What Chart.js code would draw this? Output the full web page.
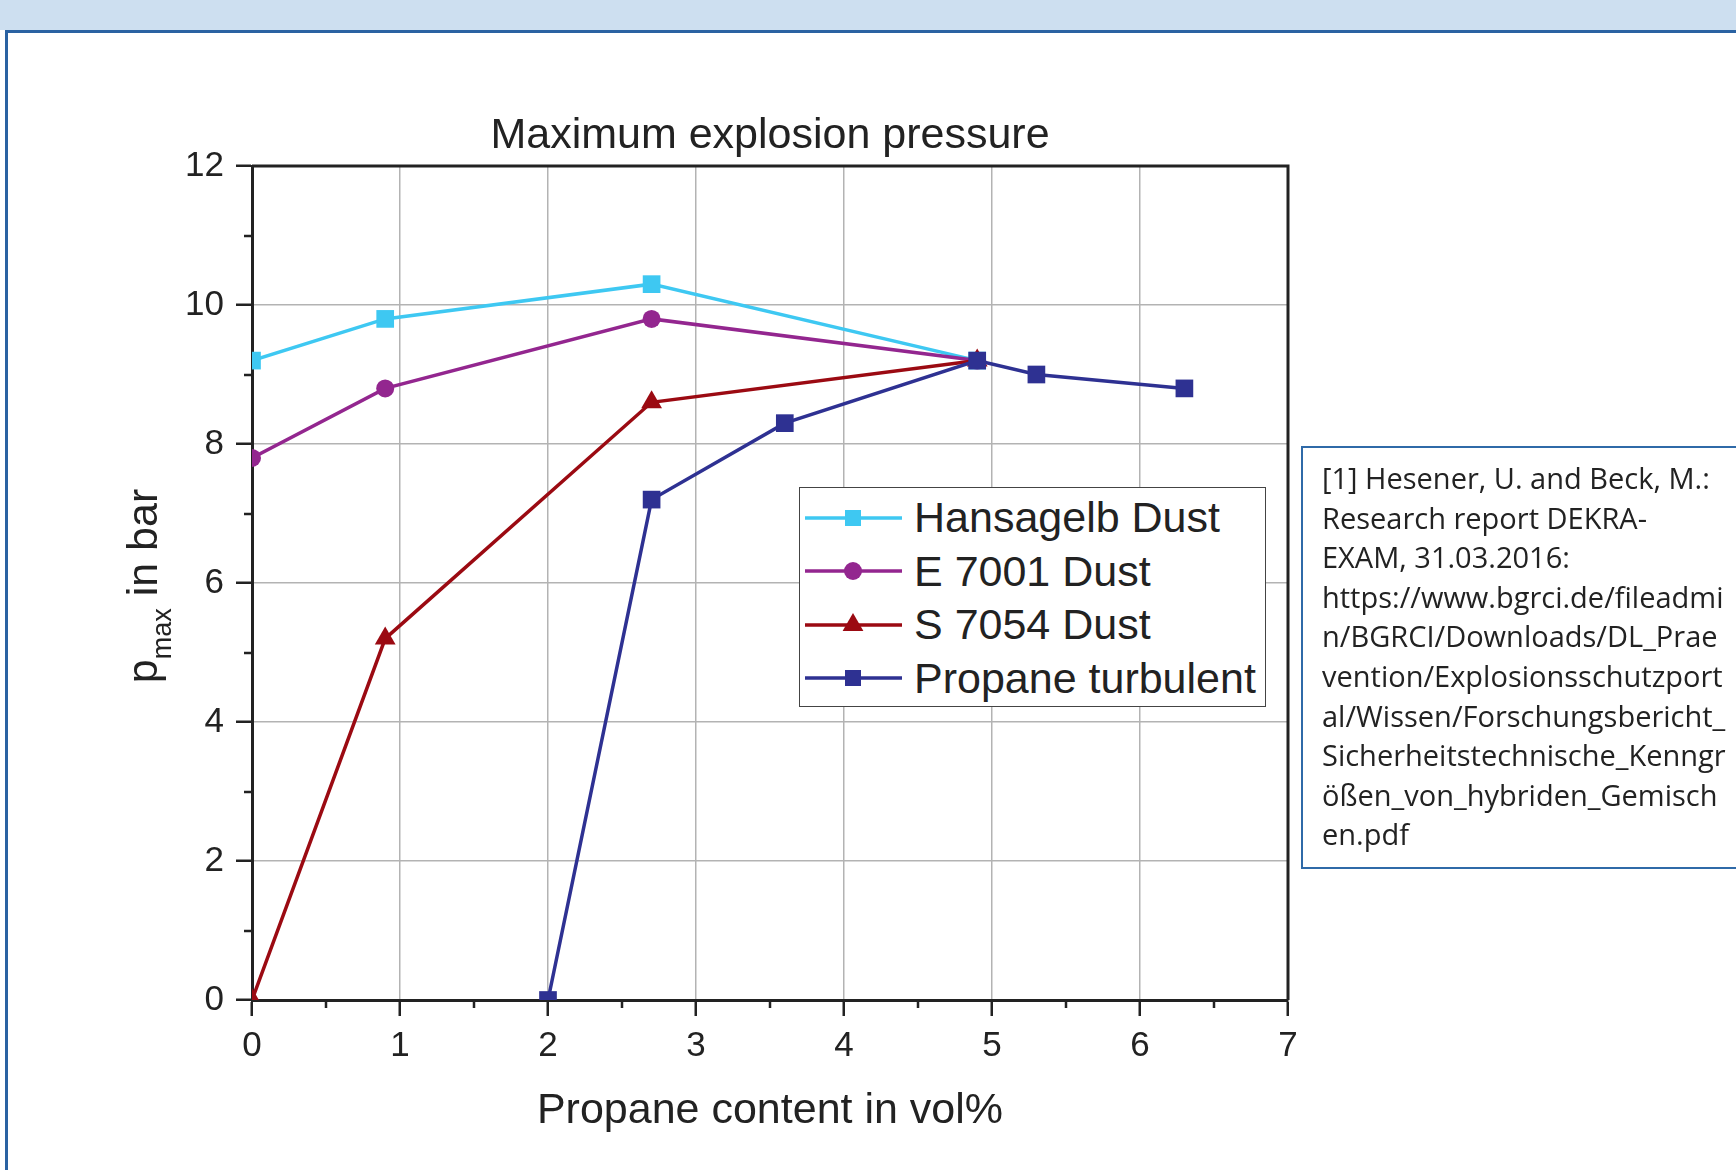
<!DOCTYPE html>
<html>
<head>
<meta charset="utf-8">
<script src="https://cdn.jsdelivr.net/npm/chart.js@4.4.1/dist/chart.umd.min.js"></script>
<style>
  html, body { margin: 0; padding: 0; background: #fff; }
  body { width: 1736px; height: 1170px; position: relative; overflow: hidden; }
  #band { position: absolute; left: 0; top: 0; width: 1736px; height: 30px; background: #cddff0; }
  #frame { position: absolute; left: 5px; top: 30px; width: 1800px; height: 1200px;
           border-top: 3px solid #2a62a2; border-left: 3px solid #2a62a2; }
  #chart { position: absolute; left: 0; top: 0; }
  #legend { position: absolute; left: 799px; top: 487px; width: 467px; height: 220px;
            border: 1.5px solid #444; background: #fff; box-sizing: border-box;
            padding-top: 3px; font-family: 'Liberation Sans', Arial, sans-serif; font-size: 43px; color: #222; }
  #legend .row { height: 53.5px; display: flex; align-items: center; }
  #legend svg { margin-left: 5px; margin-right: 12px; flex: none; }
  #ref { position: absolute; left: 1301px; top: 446px; width: 520px; height: 423px; box-sizing: border-box;
         border: 2px solid #2f6aa8; padding: 10px 0 0 19px; font-family: 'Open Sans', sans-serif;
         font-size: 29px; line-height: 39.6px; color: #222; white-space: nowrap; }
</style>
</head>
<body>
<div id="band"></div>
<div id="frame"></div>
<canvas id="chart" width="1736" height="1170"></canvas>
<div id="legend"></div>
<div id="ref">[1] Hesener, U. and Beck, M.:<br>Research report DEKRA-<br>EXAM, 31.03.2016:<br>https://www.bgrci.de/fileadmi<br>n/BGRCI/Downloads/DL_Prae<br>vention/Explosionsschutzport<br>al/Wissen/Forschungsbericht_<br>Sicherheitstechnische_Kenngr<br>ößen_von_hybriden_Gemisch<br>en.pdf</div>
<script>
// data (propane content in vol%, pmax in bar)
const seriesNames = ['Hansagelb Dust', 'E 7001 Dust', 'S 7054 Dust', 'Propane turbulent'];
const dustContent = [0, 0.9, 2.7, 4.9];
const hansagelbP = [9.2, 9.8, 10.3, 9.2];
const e7001P = [7.8, 8.8, 9.8, 9.2];
const s7054P = [0, 5.2, 8.6, 9.2];
const propaneContent = [2, 2.7, 3.6, 4.9, 5.3, 6.3];
const propaneP = [0, 7.2, 8.3, 9.2, 9.0, 8.8];

const colors = ['#3ec8f2', '#93268f', '#9b0a12', '#2e3192'];
const markers = ['rect', 'circle', 'triangle', 'rect'];
const radii = [12.5, 9, 12, 12.5];

const FONT = "'Liberation Sans', Arial, sans-serif";
const INK = '#222';
const TITLE = 'Maximum explosion pressure';

function pairs(xs, ys) {
    return xs.map((x, i) => ({ x: x, y: ys[i] }));
}

const seriesData = [
    pairs(dustContent, hansagelbP),
    pairs(dustContent, e7001P),
    pairs(dustContent, s7054P),
    pairs(propaneContent, propaneP)
];

const datasets = seriesData.map((data, i) => ({
    label: seriesNames[i],
    data: data,
    borderColor: colors[i],
    backgroundColor: colors[i],
    borderWidth: 3.5,
    pointStyle: markers[i],
    pointRadius: radii[i],
    pointBorderWidth: 0,
    order: seriesNames.length - i   // propane on top
}));

// title centred over the plot, short minor ticks, top/right frame, y title with subscript
const extras = {
    id: 'extras',
    afterDraw(chart) {
        const { ctx, chartArea: a, scales } = chart;
        ctx.save();

        ctx.fillStyle = INK;
        ctx.font = '43px ' + FONT;
        ctx.textAlign = 'center';
        ctx.textBaseline = 'middle';
        ctx.fillText(TITLE, (a.left + a.right) / 2, a.top - 30);

        ctx.strokeStyle = INK;
        ctx.lineWidth = 2.5;
        ctx.beginPath();
        for (let v = 0.5; v < 7; v += 1) {
            const px = Math.round(scales.x.getPixelForValue(v));
            ctx.moveTo(px, a.bottom);
            ctx.lineTo(px, a.bottom + 8);
        }
        for (let v = 1; v < 12; v += 2) {
            const py = Math.round(scales.y.getPixelForValue(v));
            ctx.moveTo(a.left - 8, py);
            ctx.lineTo(a.left, py);
        }
        ctx.stroke();

        ctx.lineWidth = 3;
        ctx.beginPath();
        ctx.moveTo(a.left, a.top);
        ctx.lineTo(a.right, a.top);
        ctx.lineTo(a.right, a.bottom);
        ctx.stroke();

        // y title: p_max in bar
        const main = '43px ' + FONT, sub = '27px ' + FONT;
        ctx.textAlign = 'left';
        ctx.textBaseline = 'alphabetic';
        ctx.font = main;
        const wp = ctx.measureText('p').width;
        const wr = ctx.measureText(' in bar').width;
        ctx.font = sub;
        const ws = ctx.measureText('max').width;
        ctx.translate(157, (a.top + a.bottom) / 2 + 3);
        ctx.rotate(-Math.PI / 2);
        let x = -(wp + ws + wr) / 2;
        ctx.font = main;
        ctx.fillText('p', x, 0);
        x += wp;
        ctx.font = sub;
        ctx.fillText('max', x, 14);
        x += ws;
        ctx.font = main;
        ctx.fillText(' in bar', x, 0);
        ctx.restore();
    }
};

new Chart(document.getElementById('chart').getContext('2d'), {
    type: 'line',
    data: { datasets: datasets },
    options: {
        responsive: false,
        animation: false,
        layout: { padding: { left: 120, top: 166, right: 448, bottom: 30 } },
        plugins: {
            legend: { display: false },
            tooltip: { enabled: false },
            title: { display: false }
        },
        scales: {
            x: {
                type: 'linear',
                min: 0,
                max: 7,
                ticks: { stepSize: 1, padding: 9, color: INK, font: { family: FONT, size: 35 } },
                grid: { color: '#b3b3b3', lineWidth: 1.5, tickColor: INK, tickWidth: 2.5, tickLength: 16 },
                border: { color: INK, width: 3 },
                title: {
                    display: true,
                    text: 'Propane content in vol%',
                    color: INK,
                    font: { family: FONT, size: 43, lineHeight: 1.2 },
                    padding: { top: 0, bottom: 3 }
                },
                afterFit(scale) {
                    scale.height = 140;
                    scale.paddingLeft = 0;
                    scale.paddingRight = 0;
                }
            },
            y: {
                min: 0,
                max: 12,
                ticks: { stepSize: 2, padding: 12, color: INK, font: { family: FONT, size: 35 } },
                grid: { color: '#b3b3b3', lineWidth: 1.5, tickColor: INK, tickWidth: 2.5, tickLength: 16 },
                border: { color: INK, width: 3 },
                afterFit(scale) {
                    scale.width = 132;
                    scale.paddingTop = 0;
                    scale.paddingBottom = 0;
                }
            }
        }
    },
    plugins: [extras]
});

// legend: line with marker, then the series name
const legend = document.getElementById('legend');
seriesNames.forEach((name, i) => {
    const c = colors[i];
    let mark;
    if (markers[i] === 'circle') {
        mark = `<circle cx="48" cy="15" r="9" fill="${c}"/>`;
    } else if (markers[i] === 'triangle') {
        mark = `<polygon points="48,3 37.6,21 58.4,21" fill="${c}"/>`;
    } else {
        mark = `<rect x="40" y="7" width="16" height="16" fill="${c}"/>`;
    }
    const row = document.createElement('div');
    row.className = 'row';
    row.innerHTML = `<svg width="97" height="30"><line x1="0" y1="15" x2="97" y2="15" stroke="${c}" stroke-width="3.5"/>${mark}</svg><span>${name}</span>`;
    legend.appendChild(row);
});
</script>
</body>
</html>
